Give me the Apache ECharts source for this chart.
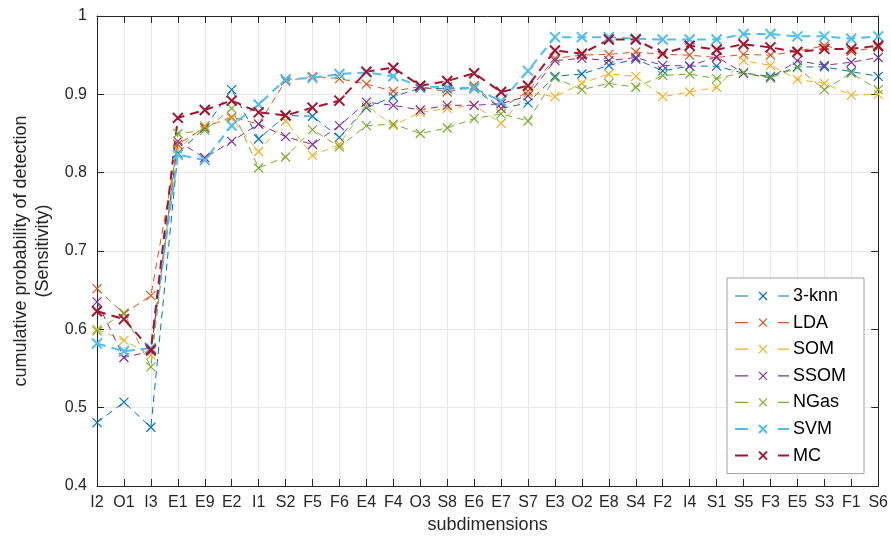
<!DOCTYPE html>
<html>
<head>
<meta charset="utf-8">
<script src="https://cdn.jsdelivr.net/npm/echarts@6/dist/echarts.min.js"></script>
<style>html,body{margin:0;padding:0;background:#fff;}#c{width:891px;height:541px;}</style>
</head>
<body>
<div id="c"></div>
<script>
const categories = ['I2','O1','I3','E1','E9','E2','I1','S2','F5','F6','E4','F4','O3','S8','E6','E7','S7','E3','O2','E8','S4','F2','I4','S1','S5','F3','E5','S3','F1','S6'];
const yTicks = [0.4, 0.5, 0.6, 0.7, 0.8, 0.9, 1];
const knn3 = [0.481,0.507,0.475,0.825,0.857,0.906,0.843,0.873,0.872,0.845,0.883,0.897,0.908,0.907,0.907,0.882,0.889,0.923,0.926,0.937,0.945,0.930,0.936,0.936,0.927,0.923,0.935,0.935,0.929,0.923];
const lda = [0.652,0.620,0.643,0.836,0.858,0.871,0.862,0.917,0.923,0.920,0.913,0.904,0.910,0.903,0.911,0.882,0.904,0.946,0.950,0.951,0.954,0.951,0.950,0.947,0.951,0.950,0.955,0.962,0.955,0.960];
const som = [0.600,0.586,0.567,0.830,0.860,0.869,0.827,0.866,0.822,0.836,0.886,0.860,0.877,0.882,0.886,0.863,0.902,0.897,0.914,0.926,0.923,0.897,0.903,0.909,0.943,0.937,0.919,0.914,0.899,0.900];
const ssom = [0.635,0.564,0.572,0.840,0.819,0.840,0.862,0.846,0.836,0.860,0.890,0.886,0.880,0.886,0.886,0.888,0.898,0.943,0.946,0.943,0.947,0.937,0.936,0.948,0.927,0.921,0.943,0.937,0.941,0.947];
const ngas = [0.598,0.621,0.552,0.850,0.854,0.882,0.806,0.820,0.855,0.833,0.860,0.862,0.850,0.857,0.869,0.875,0.866,0.921,0.906,0.914,0.909,0.924,0.926,0.920,0.928,0.921,0.934,0.906,0.927,0.906];
const svm = [0.582,0.572,0.576,0.823,0.816,0.860,0.887,0.919,0.921,0.926,0.928,0.923,0.910,0.909,0.908,0.891,0.930,0.973,0.973,0.973,0.971,0.970,0.970,0.970,0.977,0.977,0.974,0.974,0.971,0.974];
const mc = [0.623,0.613,0.574,0.870,0.880,0.892,0.877,0.873,0.883,0.892,0.929,0.934,0.911,0.917,0.927,0.903,0.911,0.956,0.952,0.970,0.970,0.952,0.962,0.957,0.964,0.960,0.954,0.958,0.958,0.962];

const seriesNames = ['3-knn','LDA','SOM','SSOM','NGas','SVM','MC'];
const seriesData = [knn3, lda, som, ssom, ngas, svm, mc];
const colors = ['#0072BD','#D95319','#EDB120','#7E2F8E','#77AC30','#4DBEEE','#A2142F'];
const widths = [1,1,1,1,1,2,2];

const FONT = '"Liberation Sans", Arial, Helvetica, sans-serif';
const X_PATH = 'path://M0 0L10 10M10 0L0 10';
const LEGEND_PATH = 'path://M0 4L13 4M24 0L32 8M32 0L24 8M43 4L54 4';

const series = seriesNames.map((n, i) => ({
  name: n,
  type: 'line',
  data: seriesData[i],
  xAxisIndex: 0,
  yAxisIndex: 0,
  symbol: X_PATH,
  symbolSize: widths[i] > 1 ? 10 : 9,
  showAllSymbol: true,
  color: colors[i],
  lineStyle: { color: colors[i], width: widths[i], type: widths[i] > 1 ? [9, 6] : [7, 5] },
  itemStyle: { color: colors[i], borderColor: colors[i], borderWidth: widths[i] > 1 ? 2 : 1.2 },
  emphasis: { disabled: true },
  animation: false
}));

const legendData = seriesNames.map((n, i) => ({
  name: n,
  icon: LEGEND_PATH,
  itemStyle: { color: colors[i], borderColor: colors[i], borderWidth: widths[i] > 1 ? 2 : 1.2 }
}));

const chart = echarts.init(document.getElementById('c'), null, { renderer: 'canvas' });
const axisCol = '#262626';
chart.setOption({
  animation: false,
  backgroundColor: '#ffffff',
  textStyle: { fontFamily: FONT },
  grid: { left: 97, right: 12, top: 16, bottom: 55, containLabel: false },
  legend: {
    orient: 'vertical',
    left: 727, top: 278,
    padding: [8, 18, 8, 7],
    itemWidth: 54, itemHeight: 8, itemGap: 6.6,
    backgroundColor: '#ffffff',
    borderColor: '#a0a0a0', borderWidth: 1,
    textStyle: { fontSize: 18, color: '#000', fontFamily: FONT, lineHeight: 20, padding: [0,0,0,-1] },
    data: legendData
  },
  xAxis: [{
    type: 'category', data: categories, boundaryGap: false,
    name: 'subdimensions', nameLocation: 'middle', nameGap: 26,
    nameTextStyle: { fontSize: 18, color: axisCol, fontFamily: FONT },
    axisLine: { lineStyle: { color: axisCol, width: 1 } },
    axisTick: { inside: true, length: 7, interval: 0, lineStyle: { color: axisCol } },
    axisLabel: { interval: 0, fontSize: 16, color: axisCol, margin: 9, fontFamily: FONT },
    splitLine: { show: true, interval: 0, lineStyle: { color: '#e8e8e8', width: 1 } }
  }, {
    type: 'category', data: categories, boundaryGap: false, position: 'top',
    axisLine: { lineStyle: { color: axisCol, width: 1 } },
    axisTick: { inside: true, length: 7, interval: 0, lineStyle: { color: axisCol } },
    axisLabel: { show: false }, splitLine: { show: false }
  }],
  yAxis: [{
    type: 'value', min: yTicks[0], max: yTicks[yTicks.length - 1], interval: 0.1,
    name: 'cumulative probability of detection\n(Sensitivity)',
    nameLocation: 'middle', nameGap: 43,
    nameTextStyle: { fontSize: 18, color: axisCol, lineHeight: 22, fontFamily: FONT },
    axisLine: { show: true, lineStyle: { color: axisCol, width: 1 } },
    axisTick: { show: true, inside: true, length: 7, lineStyle: { color: axisCol } },
    axisLabel: { fontSize: 16, color: axisCol, margin: 10, fontFamily: FONT,
      formatter: v => Math.abs(v - 1) < 1e-9 ? '1' : v.toFixed(1) },
    splitLine: { show: true, lineStyle: { color: '#e8e8e8', width: 1 } }
  }, {
    type: 'value', min: yTicks[0], max: yTicks[yTicks.length - 1], interval: 0.1, position: 'right',
    axisLine: { show: true, lineStyle: { color: axisCol, width: 1 } },
    axisTick: { show: true, inside: true, length: 7, lineStyle: { color: axisCol } },
    axisLabel: { show: false }, splitLine: { show: false }
  }],
  series: series
});
</script>
</body>
</html>
